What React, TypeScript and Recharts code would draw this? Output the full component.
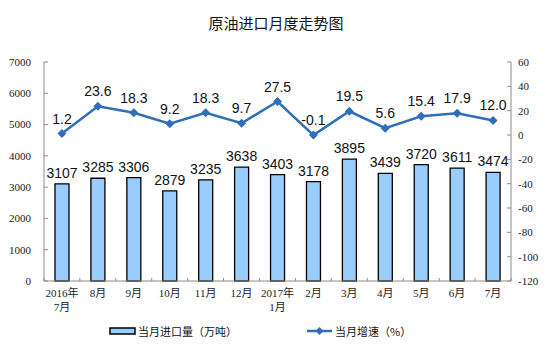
import { Bar, ComposedChart, LabelList, Line, XAxis, YAxis } from "recharts";

const months = [
  "2016年\n7月", "8月", "9月", "10月", "11月", "12月", "2017年\n1月",
  "2月", "3月", "4月", "5月", "6月", "7月",
];
const importVolume = [3107, 3285, 3306, 2879, 3235, 3638, 3403, 3178, 3895, 3439, 3720, 3611, 3474];
const growthRate = [1.2, 23.6, 18.3, 9.2, 18.3, 9.7, 27.5, -0.1, 19.5, 5.6, 15.4, 17.9, 12.0];
const leftTicks = [0, 1000, 2000, 3000, 4000, 5000, 6000, 7000];
const rightTicks = [-120, -100, -80, -60, -40, -20, 0, 20, 40, 60];

const data = months.map((m, i) => ({ month: m, volume: importVolume[i], growth: growthRate[i] }));

const LINE = "#2F6EB9";
const BAR = "#99CCFF";
const AXIS = "#8C8C8C";
const serif = "'Liberation Serif', 'Noto Sans CJK SC', serif";
const sans = "'Liberation Sans', Arial, sans-serif";
const cjk = "'Noto Sans CJK SC', sans-serif";

// category labels, plus the little inward marks between categories
function MonthTick({ x, y, payload, index }: any) {
  const lines = String(payload.value).split("\n");
  const axisY = y - 8;
  const half = 468 / months.length / 2;
  return (
    <g>
      <line x1={x - half} y1={axisY} x2={x - half} y2={axisY - 3} stroke={AXIS} />
      {index === months.length - 1 && (
        <line x1={x + half} y1={axisY} x2={x + half} y2={axisY - 3} stroke={AXIS} />
      )}
      <text x={x} y={y} textAnchor="middle" fontSize={11} fill="#222" fontFamily={serif}>
        {lines.map((l, i) => (
          <tspan key={i} x={x} dy={i === 0 ? 8 : 14}>
            {l}
          </tspan>
        ))}
      </text>
    </g>
  );
}

function Diamond({ cx, cy }: any) {
  if (cx == null || cy == null) return null;
  const r = 4.5;
  return <polygon points={`${cx},${cy - r} ${cx + r},${cy} ${cx},${cy + r} ${cx - r},${cy}`} fill={LINE} />;
}

export default function App() {
  return (
    <div style={{ position: "absolute", left: 0, top: 0, width: 552, height: 352, background: "#fff" }}>
      <div
        style={{
          position: "absolute",
          top: 12,
          left: 0,
          width: 552,
          textAlign: "center",
          fontFamily: cjk,
          fontSize: 15,
          color: "#111",
        }}
      >
        原油进口月度走势图
      </div>
      <ComposedChart width={552} height={352} data={data} margin={{ top: 62, right: 0, left: 0, bottom: 31 }}>
        <XAxis
          dataKey="month"
          height={40}
          interval={0}
          tick={<MonthTick />}
          tickLine={false}
          axisLine={{ stroke: AXIS }}
        />
        <YAxis
          yAxisId="left"
          width={44}
          domain={[0, 7000]}
          ticks={leftTicks}
          interval={0}
          tickSize={-4}
          tickMargin={17}
          tickLine={{ stroke: AXIS }}
          axisLine={{ stroke: AXIS }}
          tick={{ fontSize: 11, fill: "#222", fontFamily: serif }}
        />
        <YAxis
          yAxisId="right"
          orientation="right"
          width={41}
          domain={[-120, 60]}
          ticks={rightTicks}
          interval={0}
          tickSize={-4}
          tickMargin={11}
          tickLine={{ stroke: AXIS }}
          axisLine={{ stroke: AXIS }}
          tick={{ fontSize: 11, fill: "#222", fontFamily: serif, textAnchor: "start" }}
        />
        <Bar yAxisId="left" dataKey="volume" barSize={14} fill={BAR} stroke="#000" strokeWidth={1.3} isAnimationActive={false}>
          <LabelList dataKey="volume" position="top" offset={6} fontSize={14} fill="#111" fontFamily={sans} />
        </Bar>
        <Line
          yAxisId="right"
          dataKey="growth"
          stroke={LINE}
          strokeWidth={2.5}
          dot={<Diamond />}
          activeDot={false}
          isAnimationActive={false}
        >
          <LabelList
            dataKey="growth"
            position="top"
            offset={10}
            fontSize={14}
            fill="#111"
            fontFamily={sans}
            formatter={(v: any) => Number(v).toFixed(1)}
          />
        </Line>
      </ComposedChart>
      <svg width={552} height={30} style={{ position: "absolute", left: 0, top: 316 }}>
        <rect x={110} y={12} width={25} height={6} fill={BAR} stroke="#000" strokeWidth={1.5} />
        <text x={138} y={19.5} fontSize={11} fill="#111" fontFamily={cjk}>
          当月进口量（万吨）
        </text>
        <line x1={307} y1={15} x2={332} y2={15} stroke={LINE} strokeWidth={2.5} />
        <polygon points="319.5,11 323.5,15 319.5,19 315.5,15" fill={LINE} />
        <text x={335} y={19.5} fontSize={11} fill="#111" fontFamily={cjk}>
          当月增速（%）
        </text>
      </svg>
    </div>
  );
}
